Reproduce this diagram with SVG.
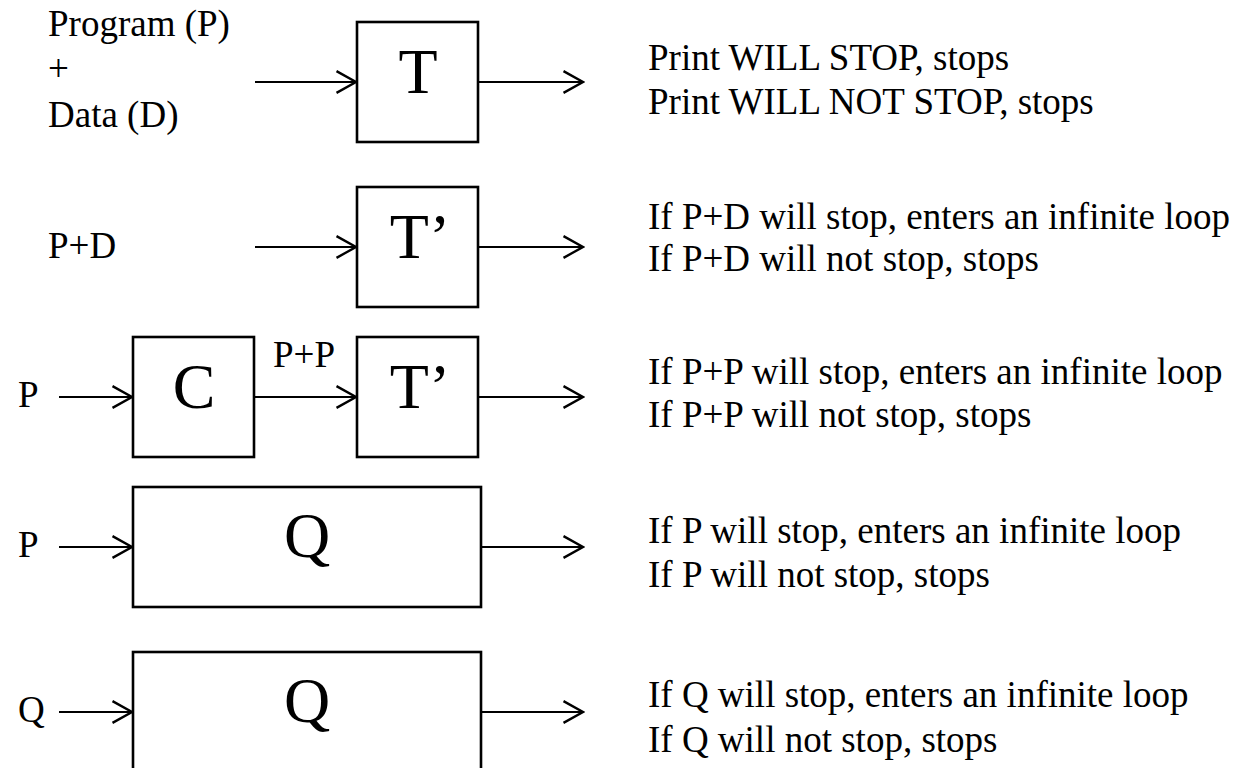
<svg xmlns="http://www.w3.org/2000/svg" width="1239" height="768" viewBox="0 0 1239 768">
<style>
  .t { font-family: "Liberation Serif", "Times New Roman", serif; font-size: 37px; fill: #000; }
  .big { font-family: "Liberation Serif", "Times New Roman", serif; font-size: 64px; fill: #000; text-anchor: middle; }
  .box { fill: #fff; stroke: #000; stroke-width: 2.6; }
  .wire { fill: none; stroke: #000; stroke-width: 2.2; marker-end: url(#arr); }
</style>
<defs>
  <marker id="arr" markerUnits="userSpaceOnUse" markerWidth="24" markerHeight="26" viewBox="-20 -12 22 24" refX="0" refY="0" orient="auto">
    <path d="M -18 -10 L 0 0 L -18 10" fill="none" stroke="#000" stroke-width="2.2"/>
  </marker>
</defs>
<rect width="1239" height="768" fill="#fff"/>

<g id="row1">
  <g id="input1">
    <text class="t" x="48" y="36">Program (P)</text>
    <text class="t" x="48" y="81">+</text>
    <text class="t" x="48" y="127">Data (D)</text>
  </g>
  <g id="nodeT">
    <rect class="box" x="357" y="22" width="121" height="120"/>
    <text class="big" x="418" y="93">T</text>
  </g>
  <g id="out1">
    <text class="t" x="648" y="70">Print WILL STOP, stops</text>
    <text class="t" x="648" y="114">Print WILL NOT STOP, stops</text>
  </g>
</g>

<g id="row2">
  <text id="input2" class="t" x="48" y="258">P+D</text>
  <g id="nodeT2">
    <rect class="box" x="357" y="187" width="121" height="120"/>
    <text class="big" x="420" y="258">T’</text>
  </g>
  <g id="out2">
    <text class="t" x="648" y="229">If P+D will stop, enters an infinite loop</text>
    <text class="t" x="648" y="271">If P+D will not stop, stops</text>
  </g>
</g>

<g id="row3">
  <text id="input3" class="t" x="18" y="407">P</text>
  <g id="nodeC">
    <rect class="box" x="133" y="337" width="121" height="120"/>
    <text class="big" x="194" y="408">C</text>
  </g>
  <text id="labelPP" class="t" x="273" y="367">P+P</text>
  <g id="nodeT3">
    <rect class="box" x="357" y="337" width="121" height="120"/>
    <text class="big" x="420" y="408">T’</text>
  </g>
  <g id="out3">
    <text class="t" x="648" y="384">If P+P will stop, enters an infinite loop</text>
    <text class="t" x="648" y="427">If P+P will not stop, stops</text>
  </g>
</g>

<g id="row4">
  <text id="input4" class="t" x="18" y="557">P</text>
  <g id="nodeQ1">
    <rect class="box" x="133" y="487" width="348" height="120"/>
    <text class="big" x="307" y="557">Q</text>
  </g>
  <g id="out4">
    <text class="t" x="648" y="543">If P will stop, enters an infinite loop</text>
    <text class="t" x="648" y="587">If P will not stop, stops</text>
  </g>
</g>

<g id="row5">
  <text id="input5" class="t" x="18" y="722">Q</text>
  <g id="nodeQ2">
    <rect class="box" x="133" y="652" width="348" height="130"/>
    <text class="big" x="307" y="722">Q</text>
  </g>
  <g id="out5">
    <text class="t" x="648" y="707">If Q will stop, enters an infinite loop</text>
    <text class="t" x="648" y="752">If Q will not stop, stops</text>
  </g>
</g>

<g id="connectors">
  <line class="wire" x1="255" y1="82" x2="356" y2="82"/>
  <line class="wire" x1="478" y1="82" x2="583" y2="82"/>
  <line class="wire" x1="255" y1="247" x2="356" y2="247"/>
  <line class="wire" x1="478" y1="247" x2="583" y2="247"/>
  <line class="wire" x1="59" y1="397" x2="132" y2="397"/>
  <line class="wire" x1="254" y1="397" x2="356" y2="397"/>
  <line class="wire" x1="478" y1="397" x2="583" y2="397"/>
  <line class="wire" x1="59" y1="547" x2="132" y2="547"/>
  <line class="wire" x1="481" y1="547" x2="583" y2="547"/>
  <line class="wire" x1="59" y1="712" x2="132" y2="712"/>
  <line class="wire" x1="481" y1="712" x2="583" y2="712"/>
</g>
</svg>
